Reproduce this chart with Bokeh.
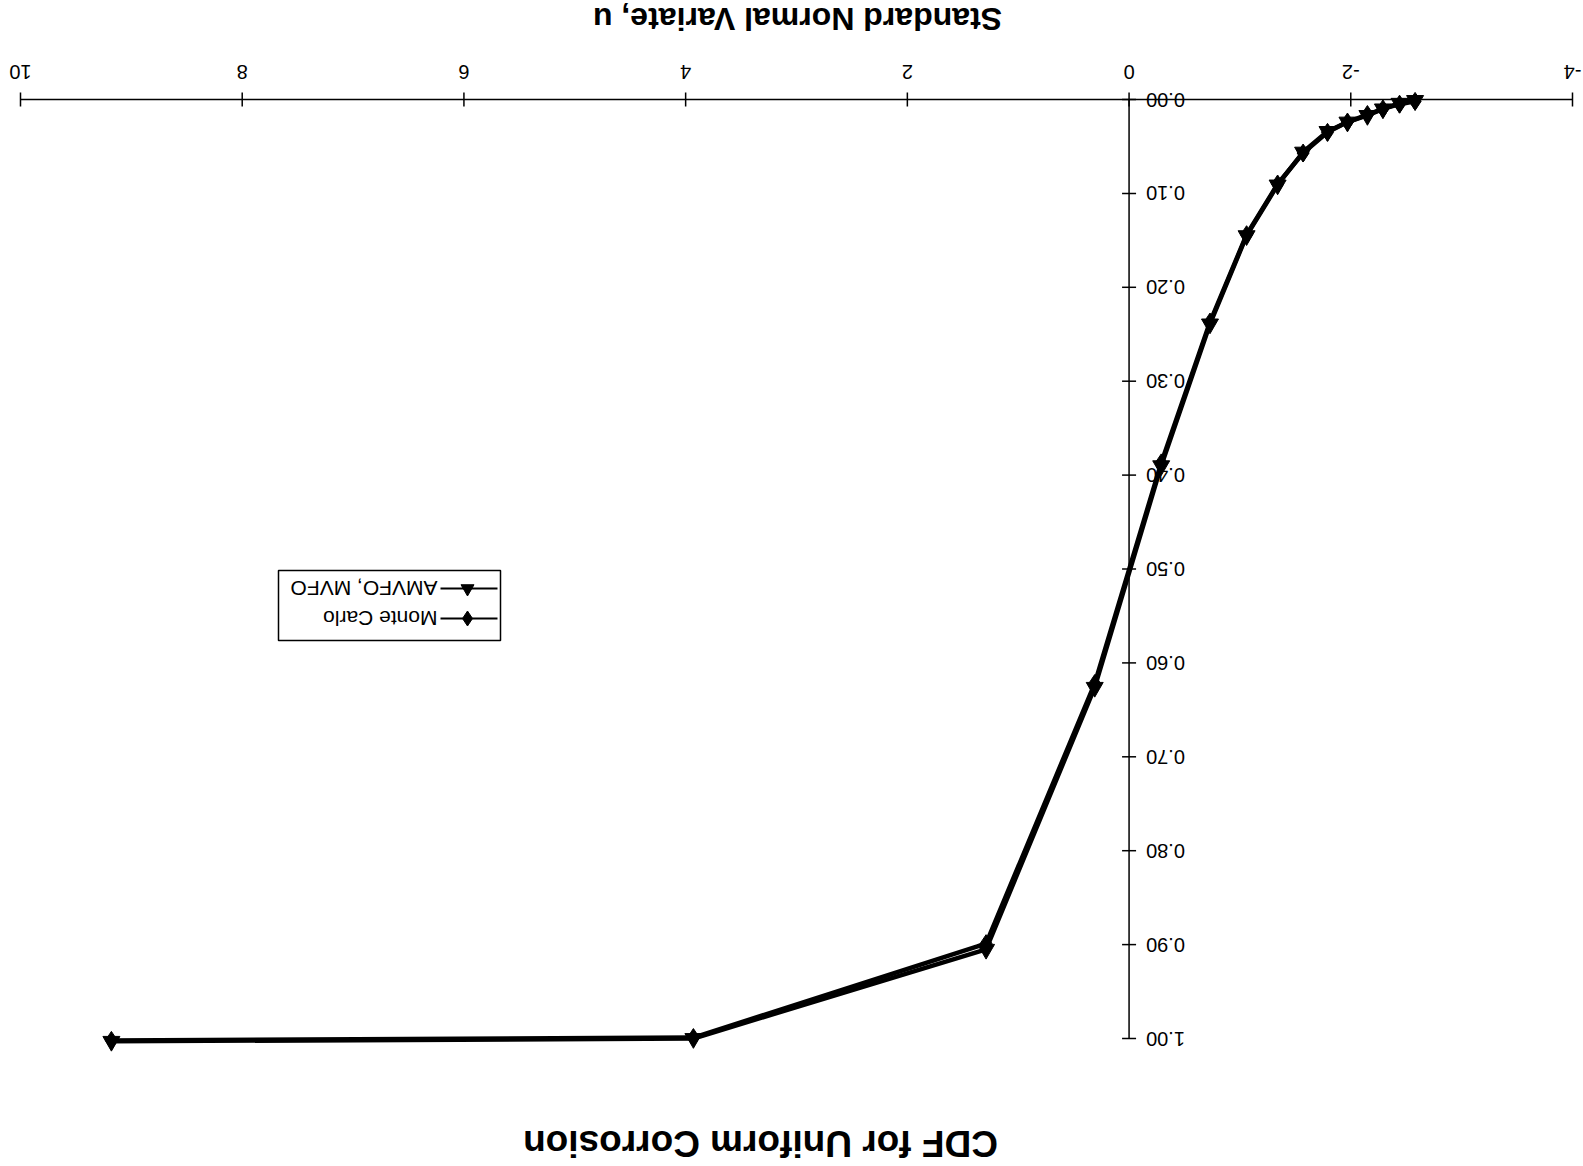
import math
from bokeh.plotting import figure
from bokeh.models import Range1d
from bokeh.core.properties import value
from bokeh.embed import file_html
from bokeh.resources import INLINE

# ---- data ----
title_text = "CDF for Uniform Corrosion"
x_label = "Standard Normal Variate, u"
x_ticks = [-4, -2, 0, 2, 4, 6, 8, 10]
x_tick_labels = ["-4", "-2", "0", "2", "4", "6", "8", "10"]
y_ticks = [0.0, 0.1, 0.2, 0.3, 0.4, 0.5, 0.6, 0.7, 0.8, 0.9, 1.0]
y_tick_labels = ["0.00", "0.10", "0.20", "0.30", "0.40", "0.50",
                 "0.60", "0.70", "0.80", "0.90", "1.00"]
series_names = ["Monte Carlo", "AMVFO, MVFO"]

u_mc = [-2.58, -2.44, -2.29, -2.15, -1.97, -1.79, -1.57, -1.34, -1.06,
        -0.73, -0.29, 0.31, 1.29, 3.93, 9.18]
cdf_mc = [0.002, 0.005, 0.010, 0.016, 0.024, 0.035, 0.057, 0.090, 0.144,
          0.237, 0.387, 0.622, 0.899, 0.999, 1.002]

u_am = [-2.58, -2.44, -2.29, -2.15, -1.97, -1.79, -1.57, -1.34, -1.06,
        -0.73, -0.29, 0.31, 1.29, 3.93, 9.18]
cdf_am = [0.001, 0.004, 0.010, 0.017, 0.024, 0.034, 0.056, 0.091, 0.145,
          0.239, 0.390, 0.626, 0.905, 1.000, 1.003]

# ---- layout (the whole chart is printed upside down) ----
W, H = 1583, 1166
AXIS_LEFT_PX, AXIS_TOP_PX = 20, 99      # where u=10 and cdf=0 sit
PX_PER_X = 110.857
PX_PER_Y = 939.0
X_MAX = 10.0


def dx(px):
    return X_MAX - (px - AXIS_LEFT_PX) / PX_PER_X


def dy(py):
    return (py - AXIS_TOP_PX) / PX_PER_Y


FONT = "Liberation Sans"

p = figure(width=W, height=H,
           x_range=Range1d(dx(0), dx(W)), y_range=Range1d(dy(H), dy(0)),
           x_axis_location=None, y_axis_location=None,
           output_backend="svg", toolbar_location=None,
           min_border=0)
p.grid.visible = False
p.outline_line_color = None
p.background_fill_color = "white"
p.border_fill_color = "white"

# ---- x axis along cdf = 0 (ticks crossing the line) ----
tx = 7 / PX_PER_Y
nx = len(x_ticks)
p.segment(x0=[x_ticks[-1]], y0=[0], x1=[x_ticks[0]], y1=[0],
          line_color="black", line_width=1.5)
p.segment(x0=x_ticks, y0=[-tx] * nx, x1=x_ticks, y1=[tx] * nx,
          line_color="black", line_width=1.5)
p.text(x=x_ticks, y=[dy(71)] * nx, text=x_tick_labels, angle=math.pi,
       text_align="center", text_baseline="middle",
       text_font=value(FONT), text_font_size=value("20px"), text_color="black")
p.text(x=[dx(797)], y=[dy(18)], text=[x_label], angle=math.pi,
       text_align="center", text_baseline="middle",
       text_font=value(FONT), text_font_style="bold",
       text_font_size=value("32px"), text_color="black")

# ---- y axis along u = 0 ----
ty = 7 / PX_PER_X
ny = len(y_ticks)
p.segment(x0=[0], y0=[y_ticks[0]], x1=[0], y1=[y_ticks[-1]],
          line_color="black", line_width=1.5)
p.segment(x0=[ty] * ny, y0=y_ticks, x1=[-ty] * ny, y1=y_ticks,
          line_color="black", line_width=1.5)
p.text(x=[-17 / PX_PER_X] * ny, y=y_ticks, text=y_tick_labels,
       angle=math.pi, text_align="right", text_baseline="middle",
       text_font=value(FONT), text_font_size=value("20px"), text_color="black")

# ---- series ----
p.line(u_mc, cdf_mc, line_color="black", line_width=4.5)
p.line(u_am, cdf_am, line_color="black", line_width=4.5)
p.scatter(u_mc, cdf_mc, marker="diamond", size=18, color="black")
p.scatter(u_am, cdf_am, marker="inverted_triangle", size=17, color="black")

# ---- upside-down legend ----
p.quad(left=[dx(278)], right=[dx(500)], top=[dy(570)], bottom=[dy(640)],
       fill_color="white", line_color="black", line_width=1.5)
leg_y = [dy(618), dy(588)]
p.segment(x0=[dx(440)] * 2, y0=leg_y, x1=[dx(497)] * 2, y1=leg_y,
          line_color="black", line_width=2)
p.scatter([dx(467)], [leg_y[0]], marker="diamond", size=15, color="black")
p.scatter([dx(467)], [leg_y[1]], marker="inverted_triangle", size=13, color="black")
p.text(x=[dx(437)] * 2, y=leg_y, text=series_names, angle=math.pi,
       text_align="left", text_baseline="middle",
       text_font=value(FONT), text_font_size=value("21px"), text_color="black")

# ---- upside-down title ----
p.text(x=[dx(760)], y=[dy(1143)], text=[title_text], angle=math.pi,
       text_align="center", text_baseline="middle",
       text_font=value(FONT), text_font_style="bold",
       text_font_size=value("37px"), text_color="black")

open("out.html", "w").write(file_html(p, INLINE))
